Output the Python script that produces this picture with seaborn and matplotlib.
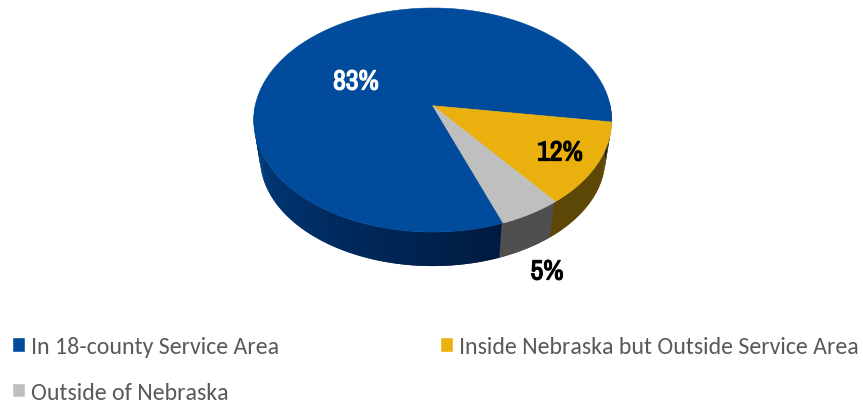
import numpy as np
import matplotlib
matplotlib.use('AGG')
import matplotlib.pyplot as plt
import matplotlib.patheffects as pe
from matplotlib.colors import to_rgb
from matplotlib.patches import Patch
import seaborn as sns

labels = ['In 18-county Service Area', 'Inside Nebraska but Outside Service Area', 'Outside of Nebraska']
values = [83, 12, 5]
value_text = ['83%', '12%', '5%']

top_colors = ['#004B9B', '#EAB00E', '#BFBFBF']
side_colors = ['#003F84', '#5C4706', '#4F4F4F']
side_dark = '#001A40'

sns.set_theme(style='white')
plt.rcParams['font.family'] = ['Carlito', 'Lato', 'DejaVu Sans']

# pie geometry in image pixels, perspective tilts the disc
apex_x, apex_y = 432.7, 106.7
rad_x, rad_y, persp = 177.5, 110.2, 0.128
side_scale, side_y = 0.965, 145.1
start_deg = -69.55


def project(theta, scale=1.0, y0=apex_y):
    u, v = np.cos(theta), np.sin(theta)
    w = 1 + persp * v
    return apex_x + scale * rad_x * u / w, y0 - scale * rad_y * v / w


def value_label(x, y, txt, col):
    # the narrow face has no bold cut here, so thicken it with a stroke
    ax.text(x, y, txt, color=col, fontsize=20, fontweight='bold', family=['Archivo Narrow', 'Liberation Sans'],
            ha='center', va='center', zorder=3, path_effects=[pe.withStroke(linewidth=0.9, foreground=col)])


fig = plt.figure(figsize=(8.63, 4.02), dpi=100)
ax = fig.add_axes([0, 0, 1, 1])
ax.set_xlim(0, 863)
ax.set_ylim(402, 0)
ax.axis('off')

shares = np.array(values) / sum(values) * 360
edges = start_deg - np.concatenate([[0], np.cumsum(shares)])

# side wall, front half of the disc, strips overlap so no seams show
strip_edges = np.arange(-181, 1.5, 1.0)
for a, b in zip(strip_edges[:-1], strip_edges[1:]):
    mid = (start_deg - (a + b) / 2) % 360
    idx = min(np.searchsorted(np.cumsum(shares), mid), len(values) - 1)
    col = np.array(to_rgb(side_colors[idx]))
    if idx == 0:
        f = np.clip((a + 180) / (start_deg + 180), 0, 1)
        col = col * (1 - f) + np.array(to_rgb(side_dark)) * f
    th = np.radians(np.linspace(a, b + 1.0, 4))
    x1, y1 = project(th)
    x2, y2 = project(th, side_scale, side_y)
    ax.fill(np.r_[x1, x2[::-1]], np.r_[y1, y2[::-1]], color=tuple(col), lw=0, zorder=1)

# top face
for i in range(len(values)):
    th = np.radians(np.linspace(edges[i], edges[i + 1], 200))
    x, y = project(th)
    ax.fill(np.r_[apex_x, x], np.r_[apex_y, y], color=top_colors[i], lw=0.4, zorder=2)

value_label(356, 83, value_text[0], 'white')
value_label(560, 154, value_text[1], 'black')
value_label(547, 273, value_text[2], 'black')

# first column holds blue and grey, second column yellow
order = [0, 2, 1]
handles = [Patch(facecolor=top_colors[i], label=labels[i]) for i in order]
ax.legend(handles=handles, loc='upper left', bbox_to_anchor=(12 / 863, 1 - 337 / 402), bbox_transform=fig.transFigure,
          ncol=2, frameon=False, fontsize=17.2, labelcolor='#595959', handlelength=0.54, handleheight=0.54,
          handletextpad=0.25, labelspacing=1.03, columnspacing=6.74, borderaxespad=0, borderpad=0)

fig.savefig('out.png', dpi=100)
